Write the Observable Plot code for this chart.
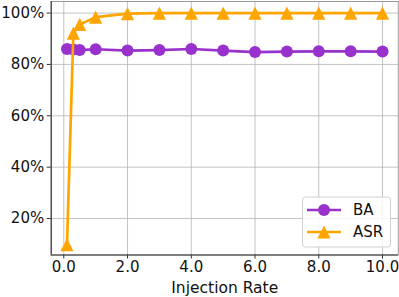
<!DOCTYPE html>
<html>
<head>
<meta charset="utf-8">
<script src="https://cdn.jsdelivr.net/npm/d3@7"></script>
<script src="https://cdn.jsdelivr.net/npm/@observablehq/plot@0.6"></script>
<style>
  html, body { margin: 0; padding: 0; background: #fff; }
  svg { display: block; }
</style>
</head>
<body>
<div id="chart"></div>
<script>
const rates = [0.1, 0.3, 0.5, 1, 2, 3, 4, 5, 6, 7, 8, 9, 10];
const baValues = [86.0, 85.8, 85.6, 85.9, 85.4, 85.6, 86.0, 85.4, 84.8, 85.0, 85.1, 85.1, 85.0];
const asrValues = [9.8, 92.2, 95.6, 98.4, 99.8, 100, 100, 100, 100, 100, 100, 100, 100];
const xTicks = [0, 2, 4, 6, 8, 10];
const yTicks = [20, 40, 60, 80, 100];
const seriesNames = ["BA", "ASR"];
const seriesColors = ["#9932CC", "#FFA500"];

const ba = rates.map((r, i) => ({rate: r, value: baValues[i]}));
const asr = rates.map((r, i) => ({rate: r, value: asrValues[i]}));

const tri = {
  draw(ctx, size) {
    const r = Math.sqrt(size / Math.PI);
    ctx.moveTo(0, -r);
    ctx.lineTo(r, r);
    ctx.lineTo(-r, r);
    ctx.closePath();
  }
};

const font = "DejaVu Sans";
const FS = 15;
const W = 399, H = 297;
const chart = Plot.plot({
  width: W,
  height: H,
  marginLeft: 50.7,
  marginRight: 1.2,
  marginTop: 1,
  marginBottom: 42.5,
  style: {fontFamily: font, fontSize: FS + "px", color: "#111", background: "#fff"},
  x: {domain: [-0.395, 10.495]},
  y: {domain: [5.8, 104.5]},
  marks: [
    Plot.gridX(xTicks, {stroke: "#b0b0b0", strokeOpacity: 0.75, strokeWidth: 1}),
    Plot.gridY(yTicks, {stroke: "#b0b0b0", strokeOpacity: 0.75, strokeWidth: 1}),
    Plot.frame({stroke: "#999", strokeWidth: 1}),
    Plot.axisX(xTicks, {tickFormat: d => d.toFixed(1), tickSize: 4, tickPadding: 2, fontSize: FS, label: null, stroke: "#333", fill: "#111"}),
    Plot.axisY(yTicks, {tickFormat: d => d + "%", tickSize: 4, tickPadding: 3, fontSize: FS, label: null, stroke: "#333", fill: "#111"}),
    Plot.ruleX([-0.395], {stroke: "#333", strokeWidth: 1.1}),
    Plot.ruleY([5.8], {stroke: "#333", strokeWidth: 1.1}),
    Plot.line(ba, {x: "rate", y: "value", stroke: seriesColors[0], strokeWidth: 2.7}),
    Plot.dot(ba, {x: "rate", y: "value", fill: seriesColors[0], r: 6, stroke: "none"}),
    Plot.line(asr, {x: "rate", y: "value", stroke: seriesColors[1], strokeWidth: 2.7}),
    Plot.dot(asr, {x: "rate", y: "value", fill: seriesColors[1], r: 6.6, symbol: tri, stroke: "none"}),
    Plot.text(["Injection Rate"], {frameAnchor: "bottom", dy: 33, fontSize: 15.5, fill: "#111", lineAnchor: "middle"})
  ]
});
document.getElementById("chart").appendChild(chart);

// legend
const svg = d3.select(chart);
const lg = svg.append("g").attr("font-family", font).attr("font-size", FS).attr("text-anchor", "start");
lg.append("rect").attr("x", 302.5).attr("y", 197).attr("width", 88).attr("height", 50)
  .attr("rx", 3).attr("fill", "#fff").attr("fill-opacity", 0.85).attr("stroke", "#d0d0d0");
seriesNames.forEach((name, i) => {
  const y = 210 + i * 22;
  lg.append("line").attr("x1", 307).attr("x2", 341).attr("y1", y).attr("y2", y)
    .attr("stroke", seriesColors[i]).attr("stroke-width", 2.7);
  if (i === 0) {
    lg.append("circle").attr("cx", 324).attr("cy", y).attr("r", 6).attr("fill", seriesColors[i]);
  } else {
    const r = 6.6;
    lg.append("path").attr("d", `M${324},${y - r}L${324 + r},${y + r}L${324 - r},${y + r}Z`).attr("fill", seriesColors[i]);
  }
  lg.append("text").attr("x", 353).attr("y", y).attr("dy", "0.35em").attr("fill", "#111")
    .attr("text-anchor", "start").text(name);
});
</script>
</body>
</html>
